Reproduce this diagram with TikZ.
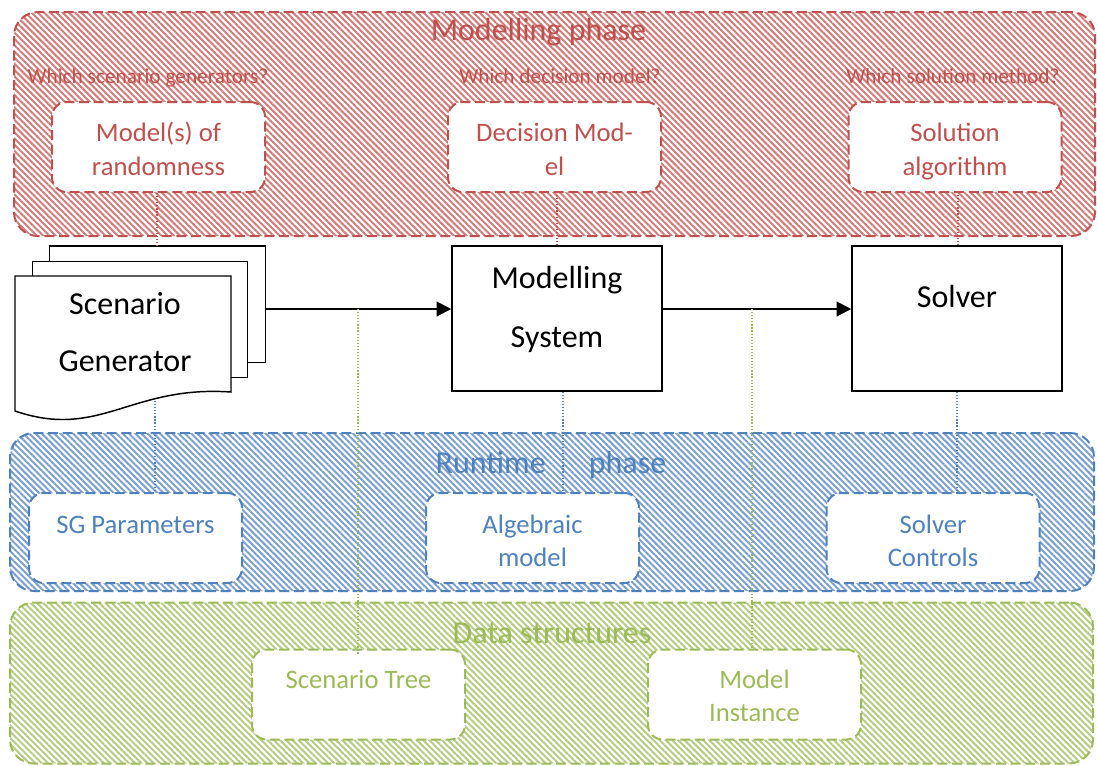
\documentclass[tikz,border=0pt]{standalone}
\usepackage{fontspec}
\setmainfont{Carlito}
\usetikzlibrary{patterns.meta,arrows.meta}
\definecolor{cred}{HTML}{C0504D}
\definecolor{cblue}{HTML}{4F81BD}
\definecolor{cgreen}{HTML}{9BBB59}
\begin{document}
\begin{tikzpicture}[x=0.75pt,y=-0.75pt,
  phase/.style={draw=#1, line width=1.5pt, dash pattern=on 7.5pt off 3.5pt,
    rounded corners=18pt, inner sep=0pt,
    pattern={Lines[angle=-45,distance=3.3pt,line width=1.5pt]}, pattern color=#1!75},
  ibox/.style={draw=#1, line width=1.5pt, dash pattern=on 7.5pt off 3.5pt,
    rounded corners=11pt, fill=white, minimum width=159.75pt, minimum height=67.5pt, inner sep=0pt},
  ttl/.style={text=#1, anchor=base, inner sep=0pt, font=\fontsize{24}{28}\selectfont},
  qst/.style={text=#1, anchor=base, inner sep=0pt, font=\fontsize{16}{19}\selectfont},
  itx/.style={text=#1, anchor=base, inner sep=0pt, font=\fontsize{20}{24}\selectfont},
  btx/.style={text=black, anchor=base, inner sep=0pt, font=\fontsize{24}{28}\selectfont},
  bbox/.style={draw=black, line width=1.1pt, fill=white, minimum width=157.5pt, minimum height=108.75pt, inner sep=0pt},
  sheet/.style={draw=black, line width=1.1pt, fill=white, line join=miter},
  flow/.style={draw=black, line width=1.5pt, -{Triangle[length=11pt,width=11pt]}},
  link/.style={draw=#1, line width=0.9pt, dash pattern=on 0.9pt off 1.4pt}
]
\useasboundingbox (0,0) rectangle (1097,765);

% ---------- phase backgrounds ----------
\node[phase=cred, minimum width=810.75pt, minimum height=168pt] (mp) at (554.5,124) {};
\node[phase=cblue, minimum width=813pt, minimum height=118.5pt] (rp) at (552,512) {};
\node[phase=cgreen, minimum width=812.25pt, minimum height=120.75pt] (ds) at (551.5,683) {};

% ---------- modelling phase ----------
\node[ttl=cred] (mpt) at (538.5,40) {Modelling phase};
\node[qst=cred] (q1) at (148,83.5) {Which scenario generators?};
\node[qst=cred] (q2) at (560,83.5) {Which decision model?};
\node[qst=cred] (q3) at (953,83.5) {Which solution method?};

\node[ibox=cred] (mr) at (158.5,147) {};
\node[ibox=cred] (dm) at (554.5,147) {};
\node[ibox=cred] (sa) at (955,147) {};
\node[itx=cred] (mr1) at (158.5,141.7) {Model(s) of};
\node[itx=cred] (mr2) at (158.5,175) {randomness};
\node[itx=cred] (dm1) at (554.5,141.7) {Decision Mod-};
\node[itx=cred] (dm2) at (554.5,175) {el};
\node[itx=cred] (sa1) at (955,141.7) {Solution};
\node[itx=cred] (sa2) at (955,175) {algorithm};

% ---------- runtime phase ----------
\node[ttl=cblue] (rpt) at (551,473.3) {Runtime\hspace{27pt} phase};
\node[ibox=cblue] (sp) at (135.5,538) {};
\node[ibox=cblue] (am) at (532.5,538) {};
\node[ibox=cblue] (sc) at (933,538) {};
\node[itx=cblue] (sp1) at (135.5,533.3) {SG Parameters};
\node[itx=cblue] (am1) at (532.5,533.3) {Algebraic};
\node[itx=cblue] (am2) at (532.5,566) {model};
\node[itx=cblue] (sc1) at (933,533.3) {Solver};
\node[itx=cblue] (sc2) at (933,566) {Controls};

% ---------- data structures ----------
\node[ttl=cgreen] (dst) at (552,643.3) {Data structures};
\node[ibox=cgreen] (st) at (358.5,694.5) {};
\node[ibox=cgreen] (mi) at (754.5,694.5) {};
\node[itx=cgreen] (st1) at (358.5,688.3) {Scenario Tree};
\node[itx=cgreen] (mi1) at (754.5,688.3) {Model};
\node[itx=cgreen] (mi2) at (754.5,721.7) {Instance};

% ---------- scenario generator (multi-document) ----------
\path[sheet] (49.3,261.7) -- (49.3,246) -- (265.7,246) -- (265.7,362.7) -- (247.3,362.7);
\path[sheet] (32.7,276) -- (32.7,261.7) -- (247.3,261.7) -- (247.3,377.7) -- (231,377.7);
\path[sheet] (15,276) -- (231,276) -- (231,392)
   .. controls (130,385) and (100,440) .. (15,411) -- cycle;
\node[btx] (sg1) at (125,314) {Scenario};
\node[btx] (sg2) at (125,371.7) {Generator};
\coordinate (sgE) at (265.7,309);
\coordinate (sgT) at (157,246);
\coordinate (sgB) at (155,401);

% ---------- modelling system and solver ----------
\node[bbox] (ms) at (557,318.5) {};
\node[btx] (ms1) at (557,288) {Modelling};
\node[btx] (ms2) at (557,347) {System};
\node[bbox] (sv) at (957,318.5) {};
\node[btx] (sv1) at (957,307) {Solver};

% ---------- flows ----------
\draw[flow] (sgE) -- (sgE -| ms.west);
\coordinate (msE) at (ms.east |- sgE);
\draw[flow] (msE) -- (msE -| sv.west);

% ---------- dotted links ----------
\draw[link=cred] (mr.south -| sgT) -- (sgT);
\draw[link=cred] (557,192) -- (557,246);
\draw[link=cred] (958,192) -- (958,246);
\draw[link=cblue] (sgB) -- (sgB |- sp.north);
\draw[link=cblue] (ms.south -| 563,0) -- (563,493);
\draw[link=cblue] (sv.south) -- (sv.south |- sc.north);
\coordinate (g1) at (358,309);
\coordinate (g2) at (752,309);
\draw[link=cgreen] (g1) -- (358,655);
\draw[link=cgreen] (g2) -- (752,648);
\end{tikzpicture}
\end{document}
